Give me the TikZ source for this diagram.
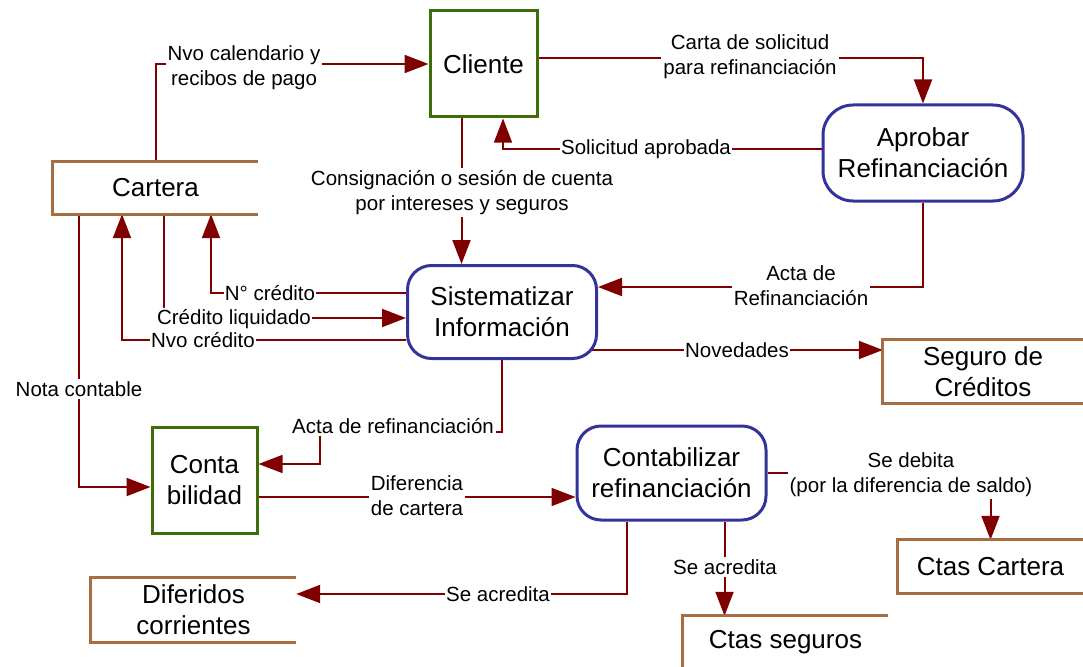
\documentclass[tikz,border=0pt]{standalone}
\usepackage{fontspec}
\setmainfont{Liberation Sans}
\usetikzlibrary{arrows.meta,backgrounds}
\definecolor{flow}{RGB}{128,0,0}
\definecolor{entgreen}{RGB}{62,110,8}
\definecolor{procblue}{RGB}{51,51,153}
\definecolor{storebrown}{RGB}{166,110,64}
\newcommand{\ndfont}{\fontsize{26}{31}\selectfont}
\newcommand{\lbfont}{\fontsize{20.5}{25}\selectfont}
\begin{document}
\begin{tikzpicture}[x=1pt,y=-1pt,
  conn/.style={draw=flow,line width=2pt},
  arr/.style={conn,-{Triangle[length=24pt,width=18pt]}},
  ent/.style={draw=entgreen,line width=3pt,fill=white,font=\ndfont,align=center,inner sep=0pt},
  proc/.style={draw=procblue,line width=3pt,fill=white,rounded corners=24pt,font=\ndfont,align=center,inner sep=0pt},
  store/.style={font=\ndfont,align=center,inner sep=0pt},
  storeline/.style={draw=storebrown,line width=3pt},
  lbl/.style={fill=white,font=\lbfont,align=center,inner sep=2pt}]
\useasboundingbox (0,0) rectangle (1083,666);

% entities and processes
\node[ent,minimum width=107pt,minimum height=106pt] (cli) at (483.5,64) {Cliente};
\node[proc,minimum width=200pt,minimum height=96pt,rounded corners=30pt] (apr) at (923,153) {Aprobar\\Refinanciación};
\node[proc,minimum width=189pt,minimum height=93pt] (sis) at (502,312) {Sistematizar\\Información};
\node[ent,minimum width=105pt,minimum height=106pt] (con) at (204.5,480) {Conta\\bilidad};
\node[proc,minimum width=189pt,minimum height=94pt] (ctz) at (671.5,473) {Contabilizar\\refinanciación};

% data stores
\node[store,minimum width=205pt,minimum height=52pt] (cart) at (155.5,188) {Cartera};
\node[store,minimum width=200pt,minimum height=63pt] (seg) at (983,371.5) {Seguro de\\Créditos};
\node[store,minimum width=185pt,minimum height=53pt] (ctc) at (990.5,566.5) {Ctas Cartera};
\node[store,minimum width=205pt,minimum height=52pt] (cts) at (785.5,642) {Ctas seguros};
\node[store,minimum width=205pt,minimum height=64pt] (dif) at (193.5,610) {Diferidos\\corrientes};

\draw[storeline] (cart.north east) -- (cart.north west) -- (cart.south west) -- (cart.south east);
\draw[storeline] (seg.north east) -- (seg.north west) -- (seg.south west) -- (seg.south east);
\draw[storeline] (ctc.north east) -- (ctc.north west) -- (ctc.south west) -- (ctc.south east);
\draw[storeline] (cts.north east) -- (cts.north west) -- (cts.south west);
\draw[storeline] (dif.north east) -- (dif.north west) -- (dif.south west) -- (dif.south east);

% connectors
\begin{scope}[on background layer]
\fill[white] (0,0) rectangle (1083,666);
\draw[arr] (cart.north) |- (cli.west);
\draw[arr] ([yshift=6pt]cli.east) -| (apr.north);
\draw[arr,line width=1.2pt] ([yshift=4pt]apr.west) -| ([xshift=19.5pt]cli.south);
\draw[arr] ([xshift=-22pt]cli.south) -- ([xshift=-22pt]cli.south |- sis.north);
\draw[arr] (apr.south) |- ([yshift=25pt]sis.east);
\draw[arr] ([yshift=19pt]sis.west) -| ([xshift=55.5pt]cart.south);
\draw[arr] ([yshift=-28pt]sis.west) -| ([xshift=-33.5pt]cart.south);
\draw[arr] ([xshift=8.5pt]cart.south) |- ([yshift=-6pt]sis.west);
\draw[arr] ([xshift=-76.5pt]cart.south) |- ([yshift=-7pt]con.west);
\draw[arr,line width=1.5pt] (sis.south) -- ++(0,72) -- ++(-182,0) |- ([yshift=16pt]con.east);
\draw[arr,line width=1.5pt] ([yshift=-17pt]con.east) -- ([yshift=-17pt]con.east -| ctz.west);
\draw[arr] ([xshift=-20pt,yshift=-38pt]sis.east) -- ([yshift=-38pt]sis.east -| seg.west);
\draw[arr] (ctz.east) -| (ctc.north);
\draw[arr] ([xshift=53pt]ctz.south) -- ([xshift=53pt]ctz.south |- cts.north);
\draw[arr] ([xshift=-44.5pt]ctz.south) |- ([yshift=16pt]dif.east);
\end{scope}

% labels
\node[lbl] (l1) at (244,68) {Nvo calendario y\\recibos de pago};
\node[lbl] (l2) at (750,57) {Carta de solicitud\\para refinanciación};
\node[lbl,inner sep=1pt] (l3) at (646,149) {Solicitud aprobada};
\node[lbl] (l4) at (462,192.5) {Consignación o sesión de cuenta\\por intereses y seguros};
\node[lbl] (l5) at (801,286) {Acta de\\Refinanciación};
\node[lbl,inner sep=1pt] (l6) at (270,293) {N° crédito};
\node[lbl,inner sep=1pt] (l7) at (203,340) {Nvo crédito};
\node[lbl,inner sep=1pt] (l8) at (234,319) {Crédito liquidado};
\node[lbl] (l9) at (79,389) {Nota contable};
\node[lbl] (l10) at (393,426) {Acta de refinanciación};
\node[lbl] (l11) at (417,496) {Diferencia\\de cartera};
\node[lbl,inner sep=1pt] (l12) at (737,350) {Novedades};
\node[lbl] (l13) at (911,475) {Se debita\\(por la diferencia de saldo)};
\node[lbl] (l14) at (725,567) {Se acredita};
\node[lbl,inner sep=1pt] (l15) at (498,594) {Se acredita};
\end{tikzpicture}
\end{document}
